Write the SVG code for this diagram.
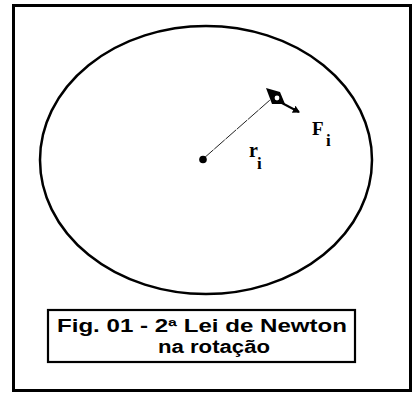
<svg xmlns="http://www.w3.org/2000/svg" width="414" height="394" viewBox="0 0 414 394">
<style>
.cap{font-family:"Liberation Sans",Arial,sans-serif;font-weight:bold;font-size:18px;fill:#000}
.lbl{font-family:"Liberation Serif","Times New Roman",serif;font-weight:bold;fill:#000}
</style>
<defs>
<marker id="ah" markerWidth="8" markerHeight="8" refX="6" refY="4" orient="auto" markerUnits="userSpaceOnUse">
<path d="M0,0 L7,4 L0,8 Z" fill="#000"/>
</marker>
</defs>
<rect x="0" y="0" width="414" height="394" fill="#fff"/>
<g id="frame"><rect x="13.5" y="5.5" width="397" height="385" fill="none" stroke="#000" stroke-width="3"/></g>
<g id="circle"><ellipse cx="206" cy="160" rx="166" ry="134" fill="none" stroke="#000" stroke-width="2.5"/></g>
<g id="connectors">
<line x1="203" y1="159" x2="270" y2="100" stroke="#222" stroke-width="1" stroke-dasharray="14 1"/>
<line x1="280" y1="102" x2="299" y2="112" stroke="#000" stroke-width="2" marker-end="url(#ah)"/>
</g>
<g id="center"><circle cx="203" cy="159.5" r="3.8" fill="#000"/></g>
<g id="particle">
<path d="M266,88 L280,92 L285,104 L272,104 Z" fill="#000"/>
<circle cx="277" cy="98" r="2.4" fill="#fff"/>
</g>
<g id="label-r"><text class="lbl" x="249" y="157" font-size="20">r</text><text class="lbl" x="257" y="169" font-size="17">i</text></g>
<g id="label-F"><text class="lbl" x="312" y="135" font-size="19">F</text><text class="lbl" x="326" y="146" font-size="17">i</text></g>
<g id="caption">
<rect x="48" y="310" width="307" height="52" fill="#fff" stroke="#000" stroke-width="2.2"/>
<text class="cap" x="57" y="332" textLength="290" lengthAdjust="spacingAndGlyphs">Fig. 01 - 2ª Lei de Newton</text>
<text class="cap" x="158" y="353" textLength="112" lengthAdjust="spacingAndGlyphs">na rotação</text>
</g>
</svg>
